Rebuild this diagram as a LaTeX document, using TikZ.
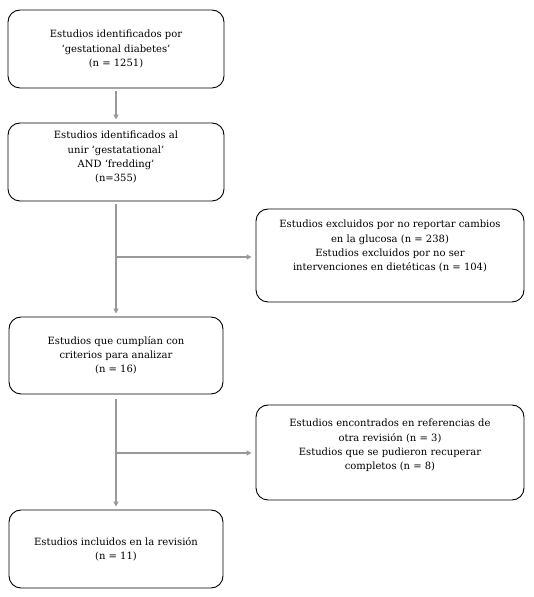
\documentclass[tikz,border=0pt]{standalone}
\usepackage{fontspec}
\setmainfont{DejaVu Serif}
\usetikzlibrary{arrows.meta,calc}
\begin{document}
\begin{tikzpicture}[x=1pt,y=1pt,
  box/.style={draw=black,line width=0.9pt,rounded corners=12pt,align=center,
    font=\fontsize{10}{14.2}\selectfont,inner sep=2pt},
  conn/.style={draw=black!40,line width=1.5pt,-{Triangle[length=5pt,width=5pt]}},
  line/.style={draw=black!40,line width=1.5pt}]
\useasboundingbox (0,0) rectangle (533,597);
\node[box,minimum width=216pt,minimum height=78pt] (b1) at (116,548) {Estudios identificados por\\‘gestational diabetes’\\(n = 1251)};
\node[box,minimum width=216pt,minimum height=78pt] (b2) at (116,435) {Estudios identificados al\\unir ‘gestatational’\\AND ‘fredding’\\(n=355)\\[-3pt]};
\node[box,minimum width=268pt,minimum height=93pt] (b4) at (390,341.5) {Estudios excluidos por no reportar cambios\\en la glucosa (n = 238)\\Estudios excluidos por no ser\\intervenciones en dietéticas (n = 104)\\[6pt]};
\node[box,minimum width=214pt,minimum height=77pt] (b3) at (116,241.5) {Estudios que cumplían con\\criterios para analizar\\(n = 16)};
\node[box,minimum width=268pt,minimum height=95pt] (b5) at (390,144.5) {Estudios encontrados en referencias de\\otra revisión (n = 3)\\Estudios que se pudieron recuperar\\completos (n = 8)\\[2pt]};
\node[box,minimum width=214pt,minimum height=78pt] (b6) at (116,48) {Estudios incluidos en la revisión\\(n = 11)};
\draw[conn,shorten <=3pt,shorten >=3pt] (b1.south) -- (b2.north);
\draw[conn,shorten <=3pt,shorten >=3pt] (b2.south) -- (b3.north);
\coordinate (j1) at (b2.south |- 0,340);
\draw[conn,shorten >=4pt] (j1) -- (b4.west |- j1);
\draw[conn,shorten <=5pt,shorten >=3pt] (b3.south) -- (b6.north);
\coordinate (j2) at (b3.south |- 0,144);
\draw[conn,shorten >=4pt] (j2) -- (b5.west |- j2);
\end{tikzpicture}
\end{document}
